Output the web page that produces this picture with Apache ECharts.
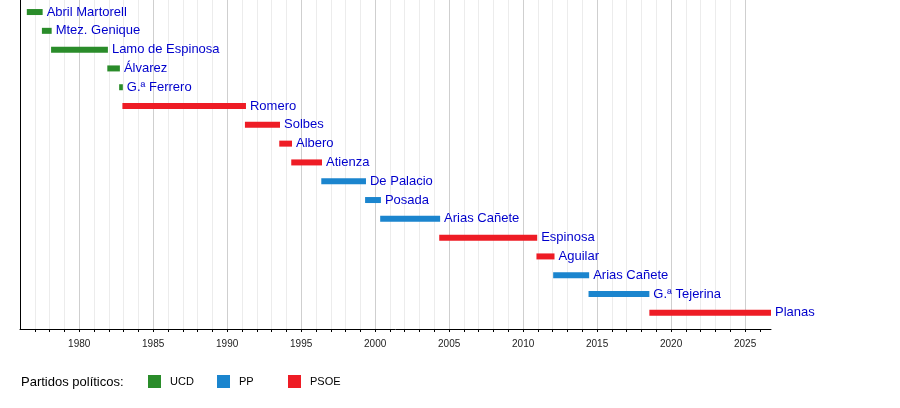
<!DOCTYPE html>
<html>
<head>
<meta charset="utf-8">
<script src="https://cdn.jsdelivr.net/npm/echarts@6/dist/echarts.min.js"></script>
<style>html,body{margin:0;padding:0;background:#fff}#c{width:900px;height:408px}</style>
</head>
<body>
<div id="c"></div>
<script>
const names = ['Abril Martorell','Mtez. Genique','Lamo de Espinosa','Álvarez','G.ª Ferrero','Romero','Solbes','Albero','Atienza','De Palacio','Posada','Arias Cañete','Espinosa','Aguilar','Arias Cañete','G.ª Tejerina','Planas'];
const starts = [1976.46,1977.48,1978.10,1981.90,1982.70,1982.92,1991.20,1993.52,1994.33,1996.36,1999.32,2000.34,2004.33,2010.90,2012.03,2014.42,2018.53];
const ends   = [1977.53,1978.14,1981.94,1982.75,1982.95,1991.27,1993.57,1994.38,1996.41,1999.38,2000.39,2004.39,2010.95,2012.12,2014.46,2018.53,2026.75];
const parties = ['UCD','UCD','UCD','UCD','UCD','PSOE','PSOE','PSOE','PSOE','PP','PP','PP','PSOE','PSOE','PP','PP','PSOE'];
const partyNames = ['UCD','PP','PSOE'];
const partyColors = ['#2A8C2A','#1B85CE','#EE1C25'];
const tickYears = [1977,1978,1979,1980,1981,1982,1983,1984,1985,1986,1987,1988,1989,1990,1991,1992,1993,1994,1995,1996,1997,1998,1999,2000,2001,2002,2003,2004,2005,2006,2007,2008,2009,2010,2011,2012,2013,2014,2015,2016,2017,2018,2019,2020,2021,2022,2023,2024,2025,2026];
const labelYears = [1980,1985,1990,1995,2000,2005,2010,2015,2020,2025];

function renderItem(params, api) {
  const row = api.value(0);
  const p0 = api.coord([api.value(1), row]);
  const p1 = api.coord([api.value(2), row]);
  const h = 6;
  return {
    type: 'group',
    children: [
      { type: 'rect', shape: { x: p0[0], y: p0[1] - h / 2, width: p1[0] - p0[0], height: h }, style: { fill: api.visual('color') } },
      { type: 'text', x: p1[0] + 4, y: p1[1], style: { text: names[row], fill: '#0000CC', font: '13px "Liberation Sans", Arial, sans-serif', verticalAlign: 'middle', align: 'left' } }
    ]
  };
}

const series = partyNames.map((p, k) => ({
  type: 'custom',
  name: p,
  color: partyColors[k],
  renderItem: renderItem,
  encode: { x: [1, 2], y: 0 },
  data: names.map((n, i) => [i, starts[i], ends[i]]).filter((d, i) => parties[i] === p),
  silent: true
}));

const legendBase = { orient: 'horizontal', top: 375, padding: 0, icon: 'rect', itemWidth: 13, itemHeight: 13, selectedMode: false,
  textStyle: { fontSize: 11, color: '#000', fontFamily: '"Liberation Sans", Arial, sans-serif', padding: [3, 0, 0, 4] } };

const chart = echarts.init(document.getElementById('c'), null, { renderer: 'canvas' });
chart.setOption({
  animation: false,
  textStyle: { fontFamily: '"Liberation Sans", Arial, sans-serif' },
  title: { text: 'Partidos políticos:', left: 21, top: 376, padding: 0,
    textStyle: { fontSize: 13, fontWeight: 'normal', color: '#000', fontFamily: '"Liberation Sans", Arial, sans-serif' } },
  legend: [
    Object.assign({}, legendBase, { left: 148, data: ['UCD'] }),
    Object.assign({}, legendBase, { left: 217, data: ['PP'] }),
    Object.assign({}, legendBase, { left: 288, data: ['PSOE'] })
  ],
  grid: { left: 20, top: 0, width: 751, height: 329, containLabel: false },
  xAxis: {
    type: 'value', min: 1976, max: 2026.75, interval: 1,
    axisLine: { show: true, onZero: false, lineStyle: { color: '#000', width: 1 } },
    axisTick: { show: true, length: 3, customValues: tickYears, lineStyle: { color: '#000' } },
    axisLabel: { customValues: labelYears, fontSize: 10, color: '#222', margin: 10, formatter: v => String(Math.round(v)) },
    splitLine: { show: true, showMinLine: true, showMaxLine: false,
      lineStyle: { color: ['#ececec','#ececec','#ececec','#cfcfcf','#ececec'], width: 1 } }
  },
  yAxis: {
    type: 'value', inverse: true, min: -0.64, max: 16.86,
    axisLine: { show: true, lineStyle: { color: '#000', width: 1 } },
    axisTick: { show: false }, axisLabel: { show: false }, splitLine: { show: false }
  },
  series: series
});
</script>
</body>
</html>
